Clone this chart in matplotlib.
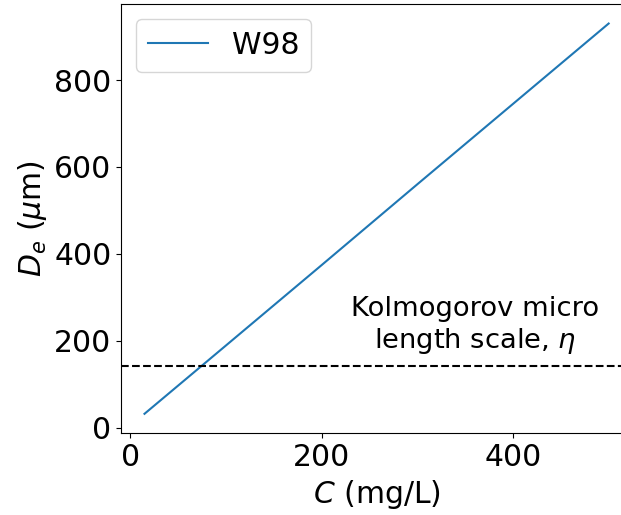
import matplotlib
matplotlib.use('Agg')
import matplotlib.pyplot as plt

# values
conc = [15, 100, 200, 300, 400, 500]          # C (mg/L)
diam = [32, 189, 374, 560, 745, 930]          # D_e (um)
eta = 142                                      # Kolmogorov micro length scale (um)

fig = plt.figure(figsize=(6.21, 5.15), dpi=100)
ax = fig.add_axes([0.1953, 0.1586, 0.8222, 0.8336])

ax.plot(conc, diam, color='#1f77b4', linewidth=1.5, label='W98')
ax.axhline(eta, color='black', linestyle='--', linewidth=1.5)
ax.text(360, 164, 'Kolmogorov micro\nlength scale, $\\eta$',
        ha='center', va='bottom', fontsize=19.7)

ax.set_xlabel('$C$ (mg/L)', fontsize=21.5)
ax.set_ylabel('$D_e$ ($\\mu$m)', fontsize=21.5)
ax.tick_params(labelsize=21.5)
ax.set_yticks([0, 200, 400, 600, 800])
ax.set_xticks([0, 200, 400])
ax.legend(loc='upper left', fontsize=21.5)

fig.savefig('out.png', dpi=100)
